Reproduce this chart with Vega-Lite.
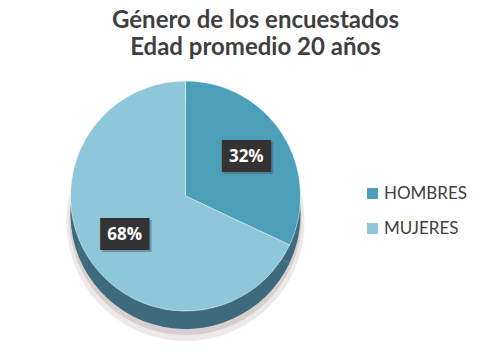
{
  "$schema": "https://vega.github.io/schema/vega-lite/v6.json",
  "width": 487,
  "height": 352,
  "autosize": {"type": "fit", "contains": "padding"},
  "padding": {"top": 9, "left": 0, "right": 0, "bottom": 0},
  "background": "#ffffff",
  "config": {"view": {"stroke": null}},
  "title": {
    "text": ["Género de los encuestados", "Edad promedio 20 años"],
    "font": "Lato",
    "fontSize": 24,
    "fontWeight": "bold",
    "color": "#3f3f3f",
    "lineHeight": 27,
    "anchor": "middle",
    "dx": 12,
    "offset": 4
  },
  "data": {
    "values": [
      {"genero": "HOMBRES", "proporcion": 0.32, "orden": 1},
      {"genero": "MUJERES", "proporcion": 0.68, "orden": 2}
    ]
  },
  "encoding": {
    "theta": {"field": "proporcion", "type": "quantitative", "stack": true},
    "order": {"field": "orden", "type": "ordinal"}
  },
  "layer": [
    {
      "mark": {"type": "arc", "outerRadius": 119, "xOffset": -58, "yOffset": 14, "fill": "#d8cfcc", "opacity": 0.45}
    },
    {
      "mark": {"type": "arc", "outerRadius": 116, "xOffset": -58, "yOffset": 11, "fill": "#c2b6b2", "opacity": 0.5}
    },
    {
      "mark": {"type": "arc", "outerRadius": 115, "xOffset": -58, "yOffset": 6, "fill": "#3d6b7d"}
    },
    {
      "mark": {"type": "arc", "outerRadius": 115, "xOffset": -58, "yOffset": -12, "stroke": "#ffffff", "strokeWidth": 0.5},
      "encoding": {
        "color": {
          "field": "genero",
          "type": "nominal",
          "scale": {"domain": ["HOMBRES", "MUJERES"], "range": ["#4c9fb9", "#8dc7d9"]},
          "legend": {
            "title": null,
            "orient": "none",
            "legendX": 364,
            "legendY": 121,
            "symbolType": "square",
            "symbolSize": 120,
            "symbolStrokeWidth": 0,
            "labelFont": "Lato",
            "labelFontSize": 17,
            "labelColor": "#404040",
            "rowPadding": 17,
            "labelOffset": 3,
            "padding": 0
          }
        }
      }
    },
    {
      "mark": {"type": "text", "radius": 72, "xOffset": -56, "yOffset": -10, "font": "DejaVu Sans Mono", "fontSize": 27, "baseline": "middle", "align": "center", "color": "#555d66", "opacity": 0.5},
      "encoding": {"text": {"value": "███"}}
    },
    {
      "mark": {"type": "text", "radius": 72, "xOffset": -58, "yOffset": -12, "font": "DejaVu Sans Mono", "fontSize": 27, "baseline": "middle", "align": "center", "color": "#333333"},
      "encoding": {"text": {"value": "███"}}
    },
    {
      "mark": {"type": "text", "radius": 72, "xOffset": -58, "yOffset": -12, "font": "Open Sans", "fontSize": 17, "fontWeight": "bold", "baseline": "middle", "align": "center", "color": "#ffffff"},
      "encoding": {"text": {"field": "proporcion", "type": "quantitative", "format": ".0%"}}
    }
  ]
}
